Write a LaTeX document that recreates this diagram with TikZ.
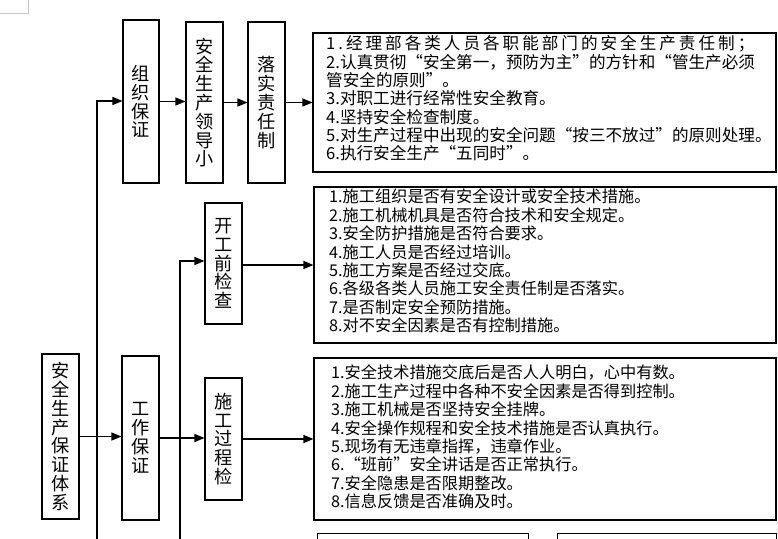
\documentclass[tikz,border=0pt]{standalone}
\usepackage{fontspec}
\newfontfamily\cjk{Noto Sans CJK SC}
\usetikzlibrary{arrows.meta}
\newcommand\qL{\makebox[1em][r]{“}}
\newcommand\qR{\makebox[1em][l]{”}}
\begin{document}
\begin{tikzpicture}[x=1pt,y=-1pt,
  box/.style={draw, line width=1.1pt, inner sep=0pt},
  vbox/.style={box, align=center, font=\cjk\fontsize{18.2}{18.8}\selectfont},
  ltext/.style={inner sep=0pt, anchor=north west, align=left, font=\cjk\fontsize{16.2}{18.35}\selectfont},
  arr/.style={line width=1.2pt, -{Triangle[length=10pt,width=8pt]}}]
\useasboundingbox (0,0) rectangle (778,538);
\clip (0,0) rectangle (778,538);
\draw[gray!45, line width=0.8pt] (-1,13) -- (28,13) -- (28,-1);

% vertical boxes
\node[vbox, minimum width=36pt, minimum height=163pt] (zz) at (141,101.5) {组\\织\\保\\证};
\node[vbox, minimum width=37pt, minimum height=161pt] (ld) at (204.5,102.5) {安\\全\\生\\产\\领\\导\\小};
\node[vbox, minimum width=37pt, minimum height=161pt] (ls) at (266.5,102.5) {落\\实\\责\\任\\制};
\node[vbox, minimum width=37pt, minimum height=121pt] (kg) at (223.5,263.5) {开\\工\\前\\检\\查};
\node[vbox, minimum width=37pt, minimum height=165pt] (tx) at (60.5,436.5) {安\\全\\生\\产\\保\\证\\体\\系};
\node[vbox, minimum width=37pt, minimum height=164pt] (gz) at (140.5,438) {工\\作\\保\\证};
\node[vbox, minimum width=37pt, minimum height=122pt] (sg) at (223.5,439) {施\\工\\过\\程\\检};

% list boxes
\node[box, minimum width=463pt, minimum height=139pt] (t1) at (544.5,102.5) {};
\node[box, minimum width=462pt, minimum height=156pt] (t2) at (545,265) {};
\node[box, minimum width=462pt, minimum height=162pt] (t3) at (545,439) {};
\node[box, minimum width=211pt, minimum height=30pt, anchor=north west] (b4) at (317,533) {};
\node[box, minimum width=219pt, minimum height=30pt, anchor=north west] (b5) at (557,533) {};

\node[ltext, font=\cjk\fontsize{16.6}{18.35}\selectfont] (t1txt) at (326,35.5) {{\addfontfeature{LetterSpace=18}1.经理部各类人员各职能部门的安全生产责任制；}\\
2.认真贯彻\qL 安全第一，预防为主\qR 的方针和\qL 管生产必须\\
管安全的原则\qR 。\\
3.对职工进行经常性安全教育。\\
4.坚持安全检查制度。\\
5.对生产过程中出现的安全问题\qL 按三不放过\qR 的原则处理。\\
6.执行安全生产\qL 五同时\qR 。};

\node[ltext] (t2txt) at (329,189) {1.施工组织是否有安全设计或安全技术措施。\\
2.施工机械机具是否符合技术和安全规定。\\
3.安全防护措施是否符合要求。\\
4.施工人员是否经过培训。\\
5.施工方案是否经过交底。\\
6.各级各类人员施工安全责任制是否落实。\\
7.是否制定安全预防措施。\\
8.对不安全因素是否有控制措施。};

\node[ltext] (t3txt) at (331,365) {1.安全技术措施交底后是否人人明白，心中有数。\\
2.施工生产过程中各种不安全因素是否得到控制。\\
3.施工机械是否坚持安全挂牌。\\
4.安全操作规程和安全技术措施是否认真执行。\\
5.现场有无违章指挥，违章作业。\\
6.\qL 班前\qR 安全讲话是否正常执行。\\
7.安全隐患是否限期整改。\\
8.信息反馈是否准确及时。};

% connectors
\coordinate (v1b) at (97,545);
\coordinate (v1t) at (97,101);
\draw[arr] (v1b) -- (v1t) -- (v1t -| zz.west);
\draw[arr] (zz.east) -- (zz.east -| ld.west);
\draw[arr] (ld.east) -- (ld.east -| ls.west);
\draw[arr] (ls.east) -- (ls.east -| t1.west);
\coordinate (v2b) at (180,545);
\coordinate (v2t) at (180,261);
\draw[arr] (v2b) -- (v2t) -- (v2t -| kg.west);
\draw[arr] ([yshift=-1.5pt]kg.east) -- ([yshift=-1.5pt]kg.east -| t2.west);
\draw[arr] (tx.east) -- (tx.east -| gz.west);
\draw[arr] (gz.east) -- (gz.east -| sg.west);
\draw[arr] (sg.east) -- (sg.east -| t3.west);
\end{tikzpicture}
\end{document}
